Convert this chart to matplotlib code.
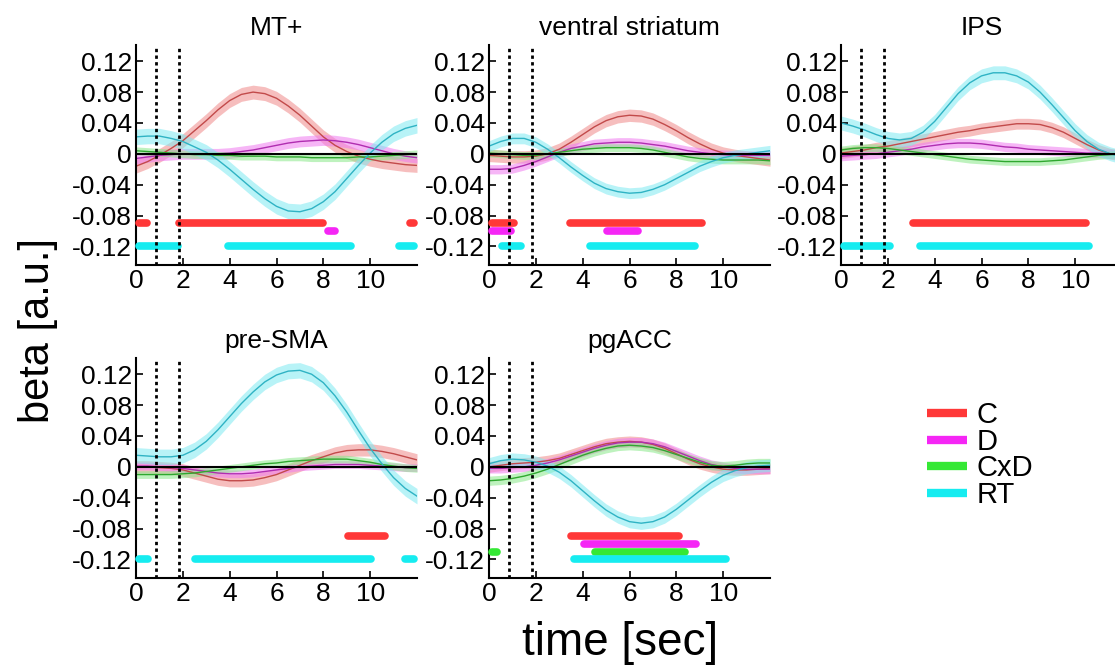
import matplotlib
matplotlib.use("Agg")
import matplotlib.pyplot as plt
from matplotlib.lines import Line2D

plt.rcParams["font.family"] = ["Liberation Sans", "DejaVu Sans"]

# time axis (sec)
t = [0, 0.5, 1, 1.5, 2, 2.5, 3, 3.5, 4, 4.5, 5, 5.5, 6, 6.5, 7, 7.5, 8, 8.5,
     9, 9.5, 10, 10.5, 11, 11.5, 12]

conditions = ["C", "D", "CxD", "RT"]
sig_levels = [-0.09, -0.10, -0.11, -0.12]
yticks = [-0.12, -0.08, -0.04, 0, 0.04, 0.08, 0.12]
ytick_labels = ["-0.12", "-0.08", "-0.04", "0", "0.04", "0.08", "0.12"]
xticks = [0, 2, 4, 6, 8, 10]
event_times = [0.85, 1.85]

# ---- MT+ ----
mt_c = [-0.016, -0.010, -0.002, 0.007, 0.017, 0.030, 0.043, 0.057, 0.069, 0.077, 0.080, 0.078, 0.072,
        0.062, 0.050, 0.036, 0.022, 0.011, 0.003, -0.003, -0.007, -0.010, -0.012, -0.014, -0.015]
mt_d = [-0.006, -0.004, -0.002, -0.001, 0.000, 0.000, 0.000, 0.000, 0.001, 0.003, 0.005, 0.008, 0.011,
        0.014, 0.016, 0.017, 0.018, 0.017, 0.015, 0.012, 0.008, 0.004, 0.000, -0.003, -0.005]
mt_cxd = [0.004, 0.003, 0.002, 0.001, 0.000, -0.001, -0.001, -0.002, -0.002, -0.003, -0.003, -0.003, -0.004,
          -0.004, -0.004, -0.005, -0.005, -0.005, -0.005, -0.004, -0.004, -0.003, -0.002, -0.001, 0.000]
mt_rt = [0.022, 0.023, 0.023, 0.020, 0.016, 0.009, 0.002, -0.008, -0.020, -0.033, -0.046, -0.058, -0.068,
         -0.074, -0.075, -0.071, -0.062, -0.049, -0.032, -0.015, 0.001, 0.015, 0.026, 0.033, 0.037]
mt_se = [0.009, 0.007, 0.005, 0.010]
mt_sig = [[(0, 0.6), (1.7, 8.1), (11.6, 12)], [(8.1, 8.6)], [], [(0, 1.9), (3.8, 9.3), (11.1, 12)]]

# ---- ventral striatum ----
vs_c = [-0.002, -0.003, -0.004, -0.004, -0.003, 0.000, 0.006, 0.015, 0.025, 0.035, 0.043, 0.048, 0.050,
        0.049, 0.045, 0.038, 0.030, 0.021, 0.013, 0.006, 0.001, -0.002, -0.004, -0.006, -0.008]
vs_d = [-0.020, -0.020, -0.019, -0.015, -0.010, -0.004, 0.002, 0.007, 0.010, 0.013, 0.014, 0.015, 0.015,
        0.014, 0.012, 0.010, 0.007, 0.004, 0.002, 0.000, -0.001, -0.002, -0.002, -0.002, -0.002]
vs_cxd = [0.001, 0.000, -0.001, -0.002, -0.002, 0.000, 0.002, 0.004, 0.006, 0.007, 0.008, 0.008, 0.008,
          0.007, 0.005, 0.002, -0.001, -0.004, -0.006, -0.007, -0.008, -0.008, -0.008, -0.008, -0.009]
vs_rt = [0.010, 0.016, 0.020, 0.020, 0.015, 0.006, -0.005, -0.017, -0.028, -0.038, -0.045, -0.049, -0.051,
         -0.050, -0.046, -0.040, -0.032, -0.024, -0.016, -0.010, -0.005, -0.002, 0.000, 0.002, 0.004]
vs_se = [0.008, 0.006, 0.005, 0.007]
vs_sig = [[(0, 1.2), (3.35, 9.2)], [(0, 1.05), (4.9, 6.5)], [], [(0.45, 1.5), (4.2, 8.9)]]

# ---- IPS ----
ips_c = [0.001, 0.003, 0.005, 0.008, 0.010, 0.013, 0.016, 0.019, 0.022, 0.025, 0.028, 0.030, 0.033,
         0.035, 0.037, 0.039, 0.039, 0.038, 0.034, 0.028, 0.020, 0.012, 0.005, 0.000, -0.002]
ips_d = [-0.003, -0.002, -0.001, 0.000, 0.002, 0.004, 0.006, 0.009, 0.011, 0.013, 0.014, 0.014, 0.013,
         0.011, 0.009, 0.008, 0.006, 0.005, 0.004, 0.003, 0.002, 0.001, 0.001, 0.000, -0.001]
ips_cxd = [0.005, 0.007, 0.008, 0.008, 0.007, 0.005, 0.003, 0.001, -0.001, -0.003, -0.005, -0.007, -0.008,
           -0.009, -0.010, -0.010, -0.010, -0.010, -0.009, -0.008, -0.006, -0.004, -0.002, -0.001, 0.000]
ips_rt = [0.040, 0.036, 0.031, 0.025, 0.020, 0.018, 0.020, 0.028, 0.042, 0.060, 0.078, 0.092, 0.101,
          0.105, 0.105, 0.101, 0.093, 0.080, 0.064, 0.047, 0.030, 0.016, 0.006, 0.000, -0.004]
ips_se = [0.007, 0.006, 0.005, 0.009]
ips_sig = [[(2.95, 10.6)], [], [], [(0, 2.2), (3.25, 10.7)]]

# ---- pre-SMA ----
sma_c = [0.000, 0.000, -0.001, -0.002, -0.004, -0.008, -0.012, -0.016, -0.018, -0.018, -0.017, -0.014, -0.010,
         -0.004, 0.002, 0.008, 0.013, 0.018, 0.021, 0.022, 0.022, 0.020, 0.017, 0.013, 0.009]
sma_d = [0.001, 0.001, 0.000, -0.001, -0.002, -0.004, -0.006, -0.008, -0.009, -0.009, -0.008, -0.006, -0.004,
         -0.002, 0.000, 0.001, 0.002, 0.003, 0.003, 0.003, 0.002, 0.001, 0.000, -0.001, -0.001]
sma_cxd = [-0.010, -0.010, -0.010, -0.010, -0.009, -0.008, -0.006, -0.004, -0.002, 0.000, 0.002, 0.004, 0.005,
           0.007, 0.008, 0.009, 0.010, 0.010, 0.010, 0.008, 0.006, 0.003, 0.001, -0.001, -0.002]
sma_rt = [0.015, 0.014, 0.013, 0.013, 0.015, 0.022, 0.033, 0.048, 0.065, 0.082, 0.097, 0.110, 0.119,
          0.124, 0.125, 0.120, 0.109, 0.092, 0.071, 0.047, 0.024, 0.004, -0.014, -0.028, -0.038]
sma_se = [0.008, 0.005, 0.005, 0.010]
sma_sig = [[(8.95, 10.75)], [], [], [(0, 0.65), (2.4, 10.15), (11.35, 12)]]

# ---- pgACC ----
pg_c = [0.000, 0.002, 0.004, 0.005, 0.006, 0.008, 0.011, 0.016, 0.021, 0.026, 0.030, 0.032, 0.033,
        0.032, 0.029, 0.024, 0.017, 0.010, 0.004, 0.000, -0.003, -0.004, -0.004, -0.003, -0.002]
pg_d = [-0.002, -0.002, -0.001, 0.000, 0.002, 0.005, 0.009, 0.014, 0.019, 0.024, 0.028, 0.031, 0.032,
        0.032, 0.030, 0.026, 0.020, 0.014, 0.008, 0.003, 0.000, -0.002, -0.003, -0.003, -0.003]
pg_cxd = [-0.018, -0.017, -0.015, -0.012, -0.008, -0.003, 0.003, 0.009, 0.015, 0.020, 0.024, 0.027, 0.028,
          0.027, 0.025, 0.021, 0.016, 0.011, 0.006, 0.002, 0.001, 0.002, 0.004, 0.005, 0.005]
pg_rt = [0.004, 0.008, 0.010, 0.009, 0.006, 0.001, -0.007, -0.018, -0.031, -0.044, -0.056, -0.065, -0.071,
         -0.073, -0.071, -0.065, -0.055, -0.043, -0.031, -0.020, -0.011, -0.005, -0.001, 0.001, 0.002]
pg_se = [0.007, 0.006, 0.006, 0.008]
pg_sig = [[(3.4, 8.25)], [(3.95, 8.95)], [(0, 0.45), (4.4, 8.5)], [(3.5, 10.25)]]

bar_colors = ["#ff3838", "#f526f5", "#35e835", "#16ecf0"]
band_colors = ["#f08a8a", "#f07af0", "#8ae88a", "#7eeaf2"]
line_colors = ["#c24a4a", "#b02db0", "#2fa82f", "#2fb3c4"]

panels = [
    ("MT+", [mt_c, mt_d, mt_cxd, mt_rt], mt_se, mt_sig, [136, 45]),
    ("ventral striatum", [vs_c, vs_d, vs_cxd, vs_rt], vs_se, vs_sig, [489, 45]),
    ("IPS", [ips_c, ips_d, ips_cxd, ips_rt], ips_se, ips_sig, [841, 45]),
    ("pre-SMA", [sma_c, sma_d, sma_cxd, sma_rt], sma_se, sma_sig, [136, 358]),
    ("pgACC", [pg_c, pg_d, pg_cxd, pg_rt], pg_se, pg_sig, [489, 358]),
]


def main():
    W, H = 1115, 666
    fig = plt.figure(figsize=(W / 100, H / 100), dpi=100)
    ax_w, ax_h = 281, 220

    for title, series, se, sigs, (px, py) in panels:
        ax = fig.add_axes([px / W, 1 - (py + ax_h) / H, ax_w / W, ax_h / H])
        for i, y in enumerate(series):
            lo = [v - se[i] for v in y]
            hi = [v + se[i] for v in y]
            ax.fill_between(t, lo, hi, color=band_colors[i], alpha=0.55, lw=0)
        for i, y in enumerate(series):
            ax.plot(t, y, color=line_colors[i], lw=1.0)
        ax.axhline(0, color="k", lw=1.5, zorder=3)
        for i, segs in enumerate(sigs):
            for a, b in segs:
                ax.plot([a + 0.12, b - 0.12], [sig_levels[i], sig_levels[i]], color=bar_colors[i],
                        lw=5.5, solid_capstyle="round", clip_on=False, zorder=4)
        for x in event_times:
            ax.axvline(x, color="k", ls=(0, (1.2, 1.2)), lw=2, zorder=5)

        ax.set_xlim(0, 12)
        ax.set_ylim(-0.144, 0.141)
        ax.set_xticks(xticks)
        ax.set_yticks(yticks)
        ax.set_yticklabels(ytick_labels)
        ax.tick_params(direction="in", length=5, width=1.2, labelsize=19, pad=3)
        for s in ["top", "right"]:
            ax.spines[s].set_visible(False)
        for s in ["left", "bottom"]:
            ax.spines[s].set_linewidth(1.5)
        ax.set_title(title, fontsize=19, pad=7)

    fig.text(38 / W, 1 - 330 / H, "beta [a.u.]", rotation=90, fontsize=30,
             ha="center", va="center")
    fig.text(620 / W, 1 - 643 / H, "time [sec]", fontsize=33, ha="center", va="center")

    handles = [Line2D([], [], color=c, lw=6, solid_capstyle="butt") for c in bar_colors]
    fig.legend(handles, conditions, loc="center left", bbox_to_anchor=(912 / W, 1 - 455 / H),
               frameon=False, fontsize=21, handlelength=1.4, handletextpad=0.3,
               labelspacing=-0.05, borderpad=0)

    fig.savefig("out.png", dpi=100)
    plt.close(fig)


if __name__ == "__main__":
    main()
